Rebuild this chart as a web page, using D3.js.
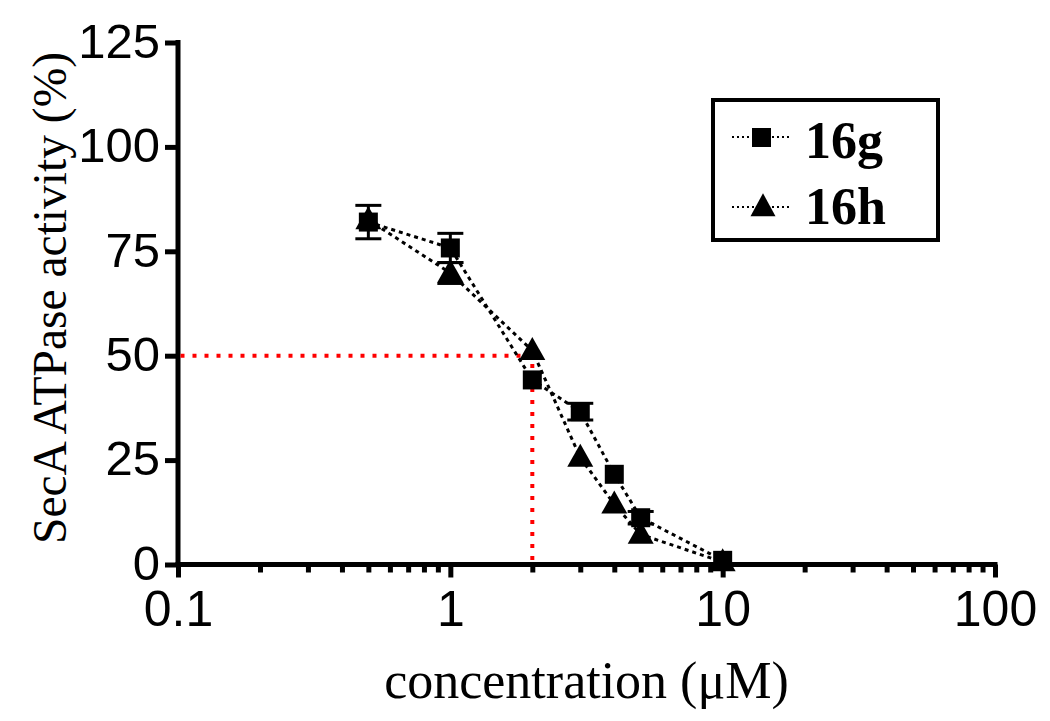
<!DOCTYPE html>
<html>
<head>
<meta charset="utf-8">
<script src="https://cdn.jsdelivr.net/npm/d3@7"></script>
<style>
  html, body { margin: 0; padding: 0; background: #fff; }
  svg { display: block; }
</style>
</head>
<body>
<svg id="chart" width="1050" height="721"></svg>
<script>
// ---- data ----
const concentrations = [0.5, 1, 2, 3, 4, 5, 10];
const act16g = [82, 75.8, 44.2, 36.6, 21.6, 11.2, 1.0];
const err16g = [4, 3.5, 0, 2, 0, 1.5, 0];
const act16h = [82.5, 69.8, 51.2, 25.6, 14.4, 7.2, 0.6];
const err16h = [0, 2.5, 0, 0, 0, 0, 0];
const xTickValues = [0.1, 1, 10, 100];
const xTickLabels = ["0.1", "1", "10", "100"];
const yTickValues = [0, 25, 50, 75, 100, 125];
const ic50 = { x: 2, y: 50 };
const seriesNames = ["16g", "16h"];

// ---- layout ----
const svg = d3.select("#chart");
const x = d3.scaleLog().domain([0.1, 100]).range([178, 995]);
const y = d3.scaleLinear().domain([0, 125]).range([564.5, 42.5]);

const sans = "'Liberation Sans', Arial, sans-serif";
const serif = "'Liberation Serif', 'Times New Roman', serif";

// minor ticks (log)
const minorVals = [];
[0.1, 1, 10].forEach(d => { for (let k = 2; k <= 9; k++) minorVals.push(d * k); });

const gxMinor = svg.append("g").attr("transform", `translate(0,${y(0)})`)
  .call(d3.axisBottom(x).tickValues(minorVals).tickSize(8).tickSizeOuter(0).tickFormat(""));
gxMinor.select(".domain").remove();
gxMinor.selectAll("line").attr("stroke", "#000").attr("stroke-width", 5);

const gx = svg.append("g").attr("transform", `translate(0,${y(0)})`)
  .call(d3.axisBottom(x).tickValues(xTickValues).tickSize(13).tickPadding(13).tickSizeOuter(0)
    .tickFormat((d, i) => xTickLabels[i]));
gx.select(".domain").remove();
gx.selectAll("line").attr("stroke", "#000").attr("stroke-width", 5);
gx.selectAll("text").attr("font-family", sans).attr("font-size", 50).attr("fill", "#000");

const gy = svg.append("g").attr("transform", `translate(${x(0.1)},0)`)
  .call(d3.axisLeft(y).tickValues(yTickValues).tickSize(13).tickPadding(5).tickSizeOuter(0));
gy.select(".domain").remove();
gy.selectAll("line").attr("stroke", "#000").attr("stroke-width", 5);
gy.selectAll("text").attr("font-family", sans).attr("font-size", 49).attr("fill", "#000")
  .attr("dy", "0.3em");

// axis lines
svg.append("line").attr("x1", x(0.1) - 2.5).attr("x2", x(100) + 2.5)
  .attr("y1", y(0)).attr("y2", y(0)).attr("stroke", "#000").attr("stroke-width", 5);
svg.append("line").attr("x1", x(0.1)).attr("x2", x(0.1))
  .attr("y1", y(125) - 2.5).attr("y2", y(0)).attr("stroke", "#000").attr("stroke-width", 5);

// IC50 red dotted guides
svg.append("path")
  .attr("d", `M${x(0.1) + 2.5},${y(ic50.y)} H${x(ic50.x)} V${y(0) - 2.5}`)
  .attr("fill", "none").attr("stroke", "#ff0000").attr("stroke-width", 4)
  .attr("stroke-dasharray", "4,8");

// series lines
const line = d3.line().x(d => x(d[0])).y(d => y(d[1]));
const pts16g = concentrations.map((c, i) => [c, act16g[i], err16g[i]]);
const pts16h = concentrations.map((c, i) => [c, act16h[i], err16h[i]]);

[pts16h, pts16g].forEach(pts => {
  svg.append("path").datum(pts).attr("d", line)
    .attr("fill", "none").attr("stroke", "#000").attr("stroke-width", 3)
    .attr("stroke-dasharray", "4,4");
});

// error bars
function errBars(pts) {
  const g = svg.append("g");
  pts.filter(p => p[2] > 0).forEach(p => {
    const cx = x(p[0]);
    const yt = y(p[1] + p[2]), yb = y(p[1] - p[2]);
    g.append("line").attr("x1", cx).attr("x2", cx).attr("y1", yt).attr("y2", yb)
      .attr("stroke", "#000").attr("stroke-width", 3);
    [yt, yb].forEach(yy => g.append("line").attr("x1", cx - 13).attr("x2", cx + 13)
      .attr("y1", yy).attr("y2", yy).attr("stroke", "#000").attr("stroke-width", 3));
  });
}
errBars(pts16h);
errBars(pts16g);

// markers
const triPath = (cx, cy, w, h) => `M${cx},${cy - h * 0.6} L${cx + w / 2},${cy + h * 0.4} L${cx - w / 2},${cy + h * 0.4} Z`;
svg.append("g").selectAll("path").data(pts16h).join("path")
  .attr("d", d => triPath(x(d[0]), y(d[1]), 26, 23)).attr("fill", "#000");
svg.append("g").selectAll("rect").data(pts16g).join("rect")
  .attr("x", d => x(d[0]) - 9.5).attr("y", d => y(d[1]) - 9.5)
  .attr("width", 19).attr("height", 19).attr("fill", "#000");

// axis titles
svg.append("text").attr("x", (x(0.1) + x(100)) / 2).attr("y", 698)
  .attr("text-anchor", "middle").attr("font-family", serif).attr("font-size", 52)
  .attr("fill", "#000").text("concentration (μM)");
svg.append("text").attr("transform", "translate(66,298) rotate(-90)")
  .attr("text-anchor", "middle").attr("font-family", serif).attr("font-size", 47.5)
  .attr("fill", "#000").text("SecA ATPase activity (%)");

// legend
const lg = svg.append("g");
lg.append("rect").attr("x", 713).attr("y", 100).attr("width", 225).attr("height", 140)
  .attr("fill", "#fff").attr("stroke", "#000").attr("stroke-width", 4);
const rows = [{ name: seriesNames[0], cy: 137, base: 158, sym: "sq" },
              { name: seriesNames[1], cy: 207, base: 224, sym: "tri" }];
rows.forEach(r => {
  lg.append("line").attr("x1", 732).attr("x2", 792).attr("y1", r.cy).attr("y2", r.cy)
    .attr("stroke", "#000").attr("stroke-width", 2).attr("stroke-dasharray", "2,3");
  if (r.sym === "sq") {
    lg.append("rect").attr("x", 752).attr("y", r.cy - 9).attr("width", 19).attr("height", 19).attr("fill", "#000");
  } else {
    lg.append("path").attr("d", triPath(763, r.cy, 25, 23)).attr("fill", "#000");
  }
  lg.append("text").attr("x", 805).attr("y", r.base).attr("font-family", serif)
    .attr("font-weight", "bold").attr("font-size", 52).attr("fill", "#000").text(r.name);
});
</script>
</body>
</html>
